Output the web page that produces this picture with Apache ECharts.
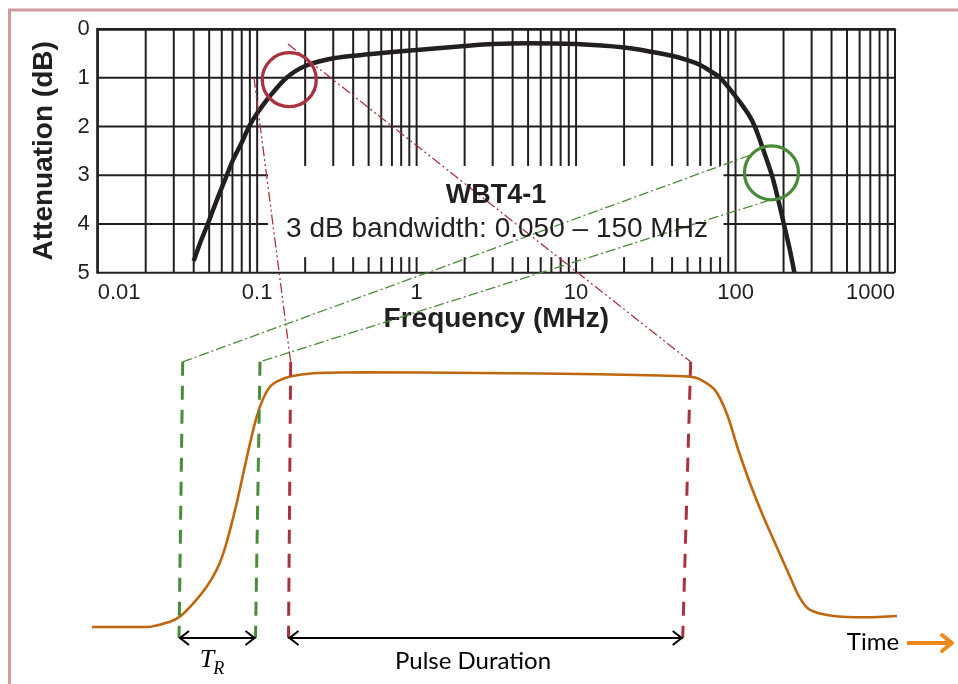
<!DOCTYPE html>
<html><head><meta charset="utf-8">
<script src="https://cdn.jsdelivr.net/npm/echarts@6/dist/echarts.min.js"></script>
<style>html,body{margin:0;padding:0;background:#fff}#c{width:958px;height:684px}</style>
</head><body><div id="c"></div>
<script>
// ---- data ----
const xTickLabels = ['0.01', '0.1', '1', '10', '100', '1000'];
const yTickLabels = ['0', '1', '2', '3', '4', '5'];
const yTicks = [0, 1, 2, 3, 4, 5];
const decades = [0.01, 0.1, 1, 10, 100];
const multipliers = [1, 2, 3, 4, 5, 6, 7, 8, 9];
const axisMinFreq = 0.01;
const axisMaxFreq = 1000;

const freqMHz = [0.04, 0.044, 0.049, 0.056, 0.0645, 0.07, 0.08, 0.089, 0.1, 0.12, 0.153, 0.2, 0.3, 0.5, 1, 2, 3, 5, 10, 20, 30, 40, 50, 60, 70, 80, 100, 120, 132, 150, 169, 185, 201, 218, 234];
const attenuationDb = [4.76, 4.38, 4.0, 3.5, 3.0, 2.71, 2.33, 2.0, 1.73, 1.38, 1.0, 0.76, 0.6, 0.52, 0.43, 0.35, 0.31, 0.29, 0.31, 0.38, 0.47, 0.55, 0.64, 0.74, 0.87, 1.0, 1.38, 1.74, 2.0, 2.5, 3.0, 3.5, 4.0, 4.5, 5.0];

// caption area where the grid is interrupted
const textBoxFreq = [0.117, 84];
const textBoxDb = [2.81, 4.68];

const circleFreq = [0.159, 168];
const circleDb = [1.04, 2.95];

const pulseTime = [0, 6.8, 9.7, 10.93, 12.58, 14.24, 15.48, 16.31, 17.14, 17.97, 18.8, 19.63, 20.46, 21.28, 22.11, 22.94, 24.6, 27.5, 33.7, 48.2, 63.1, 74.3, 75.53, 77.39, 78.84, 80.29, 81.74, 83.39, 85.05, 86.71, 87.95, 89.19, 92.09, 96.2, 100];
const pulseLevel = [0, 0.0, 0.021, 0.041, 0.093, 0.158, 0.224, 0.289, 0.38, 0.485, 0.603, 0.72, 0.825, 0.897, 0.942, 0.962, 0.982, 0.995, 0.999, 0.996, 0.991, 0.982, 0.971, 0.929, 0.838, 0.694, 0.564, 0.433, 0.315, 0.197, 0.113, 0.067, 0.043, 0.038, 0.043];

const riseMarkerTop = [11.27, 20.87];
const riseMarkerBottom = [10.81, 20.31];
const durationMarkerTop = [24.68, 74.37];
const durationMarkerBottom = [24.41, 73.38];
const markerTopLevel = 1.04;
const markerBottomLevel = -0.043;

const redLinkFreq = [0.0955, 0.156];
const redLinkDb = [1.0, 0.31];
const greenLinkFreq = [122.9, 164];
const greenLinkDb = [2.59, 3.51];

// ---- styles ----
const INK = '#231f20';
const RED = '#a8323e';
const GREEN = '#4a8b3a';
const ORANGE = '#c0660e';
const BRIGHT = '#f0891c';

const gridFreqs = [];
decades.forEach(d => multipliers.forEach(m => gridFreqs.push(m * d)));
gridFreqs.push(axisMaxFreq);

const chart = echarts.init(document.getElementById('c'), null, {renderer: 'canvas'});

function seg(api, a, b) {
  const p = api.coord(a), q = api.coord(b);
  return {type: 'line', shape: {x1: p[0], y1: p[1], x2: q[0], y2: q[1]}, style: {stroke: INK, lineWidth: 2}};
}

function markerSeries(topVals, bottomVals, color) {
  return topVals.map((t, i) => ({
    type: 'line', xAxisIndex: 1, yAxisIndex: 1, symbol: 'none', silent: true, z: 4,
    data: [[t, markerTopLevel], [bottomVals[i], markerBottomLevel]],
    lineStyle: {color: color, width: 3, type: [14, 10]}
  }));
}

const option = {
  animation: false,
  backgroundColor: '#ffffff',
  grid: [
    {left: 97.7, top: 29, width: 797.3, height: 243.7},
    {left: 92, top: 321, width: 805, height: 357}
  ],
  xAxis: [
    {
      gridIndex: 0, type: 'log', logBase: 10, min: axisMinFreq, max: axisMaxFreq,
      axisLine: {show: true, lineStyle: {color: INK, width: 2.5}},
      axisTick: {show: false}, splitLine: {show: false},
      axisLabel: {
        fontSize: 22, color: INK, margin: 9, fontFamily: 'Liberation Sans',
        alignMinLabel: 'left', alignMaxLabel: 'right',
        formatter: v => xTickLabels[Math.round(Math.log10(v)) + 2]
      },
      name: 'Frequency (MHz)', nameLocation: 'middle', nameGap: 33,
      nameTextStyle: {fontSize: 28, fontWeight: 'bold', color: INK, fontFamily: 'Liberation Sans'}
    },
    {gridIndex: 1, type: 'value', min: 0, max: 100, show: false}
  ],
  yAxis: [
    {
      gridIndex: 0, type: 'value', min: 0, max: 5, interval: 1, inverse: true,
      axisLine: {show: true, lineStyle: {color: INK, width: 2.5}},
      axisTick: {show: false},
      splitLine: {show: false},
      axisLabel: {fontSize: 22, color: INK, margin: 8, fontFamily: 'Liberation Sans',
        formatter: v => yTickLabels[v]},
      name: 'Attenuation (dB)', nameLocation: 'middle', nameGap: 39,
      nameTextStyle: {fontSize: 28, fontWeight: 'bold', color: INK, fontFamily: 'Liberation Sans'}
    },
    {gridIndex: 1, type: 'value', min: -0.2, max: 1.2, show: false}
  ],
  series: [
    {
      // vertical grid lines (decade + minor), interrupted by the caption area
      type: 'custom', xAxisIndex: 0, yAxisIndex: 0, silent: true, z: 1,
      data: gridFreqs.map(f => [f, 0]),
      encode: {x: 0, y: 1},
      renderItem: (params, api) => {
        const f = api.value(0);
        const inside = f > textBoxFreq[0] && f < textBoxFreq[1];
        const children = inside
          ? [seg(api, [f, 0], [f, textBoxDb[0]]), seg(api, [f, textBoxDb[1]], [f, 5])]
          : [seg(api, [f, 0], [f, 5])];
        return {type: 'group', children: children};
      }
    },
    {
      // horizontal grid lines, interrupted by the caption area
      type: 'custom', xAxisIndex: 0, yAxisIndex: 0, silent: true, z: 1,
      data: yTicks.map(d => [1, d]),
      encode: {x: 0, y: 1},
      renderItem: (params, api) => {
        const d = api.value(1);
        const inside = d > textBoxDb[0] && d < textBoxDb[1];
        const children = inside
          ? [seg(api, [axisMinFreq, d], [textBoxFreq[0], d]), seg(api, [textBoxFreq[1], d], [axisMaxFreq, d])]
          : [seg(api, [axisMinFreq, d], [axisMaxFreq, d])];
        return {type: 'group', children: children};
      }
    },
    {
      type: 'line', xAxisIndex: 0, yAxisIndex: 0, symbol: 'none', smooth: 0.3, z: 3, silent: true,
      data: freqMHz.map((f, i) => [f, attenuationDb[i]]),
      lineStyle: {color: INK, width: 4.5}
    },
    {
      type: 'scatter', xAxisIndex: 0, yAxisIndex: 0, symbol: 'circle', symbolSize: 54, z: 5, silent: true,
      data: [
        {value: [circleFreq[0], circleDb[0]], itemStyle: {borderColor: RED}},
        {value: [circleFreq[1], circleDb[1]], itemStyle: {borderColor: GREEN}}
      ],
      itemStyle: {color: 'rgba(0,0,0,0)', borderWidth: 3.3, opacity: 1}
    },
    {
      type: 'line', xAxisIndex: 1, yAxisIndex: 1, symbol: 'none', smooth: 0.3, z: 3, silent: true,
      data: pulseTime.map((t, i) => [t, pulseLevel[i]]),
      lineStyle: {color: ORANGE, width: 2.6}
    }
  ].concat(markerSeries(riseMarkerTop, riseMarkerBottom, GREEN))
   .concat(markerSeries(durationMarkerTop, durationMarkerBottom, RED))
};

chart.setOption(option);

// ---- overlay graphics computed through the axes ----
const toTop = (f, db) => chart.convertToPixel({gridIndex: 0}, [f, db]);
const toBot = (t, a) => chart.convertToPixel({gridIndex: 1}, [t, a]);
const g = [];

// figure border
g.push({type: 'polyline', z: 20, silent: true, shape: {points: [[9.5, 684], [9.5, 10], [958, 10]]},
  style: {stroke: '#cf9d9d', lineWidth: 3, fill: null}});

function link(p, q, color, dash) {
  g.push({type: 'line', z: 10, silent: true, shape: {x1: p[0], y1: p[1], x2: q[0], y2: q[1]},
    style: {stroke: color, lineWidth: 1.3, lineDash: dash}});
}
redLinkFreq.forEach((f, i) => link(toTop(f, redLinkDb[i]), toBot(durationMarkerTop[i], markerTopLevel), RED, [10, 3, 2, 3, 2, 3]));
greenLinkFreq.forEach((f, i) => link(toTop(f, greenLinkDb[i]), toBot(riseMarkerTop[i], markerTopLevel), GREEN, [10, 3, 2, 3]));

function dblArrow(t1, t2) {
  const p = toBot(t1, markerBottomLevel), q = toBot(t2, markerBottomLevel);
  const y = p[1];
  g.push({type: 'line', z: 10, silent: true, shape: {x1: p[0], y1: y, x2: q[0], y2: y}, style: {stroke: '#000', lineWidth: 2}});
  g.push({type: 'polyline', z: 10, silent: true, shape: {points: [[p[0] + 10, y - 7], [p[0] + 1, y], [p[0] + 10, y + 7]]}, style: {stroke: '#000', lineWidth: 2, fill: null}});
  g.push({type: 'polyline', z: 10, silent: true, shape: {points: [[q[0] - 10, y - 7], [q[0] - 1, y], [q[0] - 10, y + 7]]}, style: {stroke: '#000', lineWidth: 2, fill: null}});
  return [p[0], q[0], y];
}
const tr = dblArrow(riseMarkerBottom[0], riseMarkerBottom[1]);
const pd = dblArrow(durationMarkerBottom[0], durationMarkerBottom[1]);

// T_R label
g.push({type: 'text', z: 10, silent: true, x: (tr[0] + tr[1]) / 2 - 3, y: tr[2] + 22,
  style: {text: 'T', fontFamily: 'Liberation Serif', fontStyle: 'italic', fontSize: 26, fill: '#000', align: 'right', verticalAlign: 'middle'}});
g.push({type: 'text', z: 10, silent: true, x: (tr[0] + tr[1]) / 2 - 4, y: tr[2] + 31,
  style: {text: 'R', fontFamily: 'Liberation Serif', fontStyle: 'italic', fontSize: 18, fill: '#000', align: 'left', verticalAlign: 'middle'}});
// Pulse Duration
g.push({type: 'text', z: 10, silent: true, x: 473, y: tr[2] + 23,
  style: {text: 'Pulse Duration', fontFamily: 'Lato', fontSize: 24, fill: '#000', align: 'center', verticalAlign: 'middle'}});
// Time
g.push({type: 'text', z: 10, silent: true, x: 873, y: 642,
  style: {text: 'Time', fontFamily: 'Lato', fontSize: 24, fill: '#000', align: 'center', verticalAlign: 'middle'}});
g.push({type: 'line', z: 10, silent: true, shape: {x1: 907, y1: 643, x2: 951, y2: 643}, style: {stroke: BRIGHT, lineWidth: 4}});
g.push({type: 'polyline', z: 10, silent: true, shape: {points: [[942, 635], [952, 643], [942, 651]]}, style: {stroke: BRIGHT, lineWidth: 4, fill: null, lineJoin: 'round', lineCap: 'round'}});

// chart captions
g.push({type: 'text', z: 10, silent: true, x: 496, y: 196,
  style: {text: 'WBT4-1', fontFamily: 'Liberation Sans', fontWeight: 'bold', fontSize: 27, fill: INK, align: 'center', verticalAlign: 'middle'}});
g.push({type: 'text', z: 10, silent: true, x: 497, y: 229,
  style: {text: '3 dB bandwidth: 0.050 \u2013 150 MHz', fontFamily: 'Liberation Sans', fontSize: 28, fill: INK, align: 'center', verticalAlign: 'middle'}});

chart.setOption({graphic: g});
</script>
</body></html>
